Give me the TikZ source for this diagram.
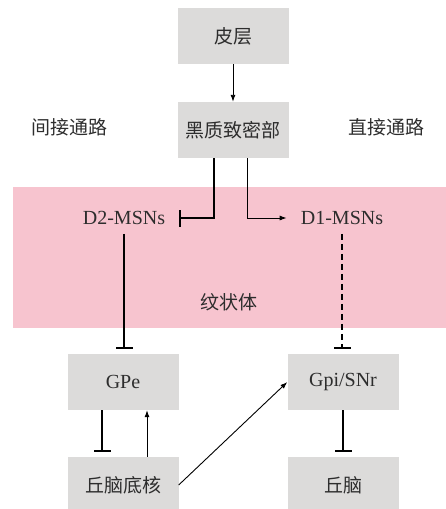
\documentclass[tikz,border=0pt]{standalone}
\usepackage{fontspec}
\setmainfont{Liberation Serif}
\newfontfamily\cjk{Noto Sans CJK SC}
\usetikzlibrary{arrows.meta}
\definecolor{boxgrey}{RGB}{220,219,218}
\definecolor{stripink}{RGB}{247,196,207}
\definecolor{ink}{RGB}{45,45,45}

\begin{document}
\begin{tikzpicture}[x=1pt, y=-1pt]
    \tikzset{%
      box/.style={rectangle, fill=boxgrey, minimum width=111pt,
        minimum height=56pt, inner sep=0pt},
      cn/.style={text=ink, font=\fontsize{19}{22}\selectfont\cjk},
      en/.style={text=ink, font=\fontsize{20}{24}\selectfont},
      msn/.style={en, inner xsep=14pt, inner ysep=9pt},
      arr/.style={-{Latex[length=7pt,width=5pt]}, line width=0.9pt},
      inh/.style={-{Bar[width=17pt,line width=1.8pt]}, line width=1.2pt,
        shorten >=5pt},
    }
    \useasboundingbox (0,0) rectangle (446,509);
    % striatum
    \fill[stripink] (13,187) rectangle (446,328);

    \node[box, cn] (Ctx) at (233,36) {皮层};
    \node[box, cn] (SNc) at (233,130) {黑质致密部};
    \node[cn] (Ind) at (69,127) {间接通路};
    \node[cn] (Dir) at (386,127) {直接通路};

    \node[msn] (D2) at (124,218) {D2-MSNs};
    \node[msn] (D1) at (342,218) {D1-MSNs};
    \node[cn] (Str) at (229,302) {纹状体};

    \node[box, en] (GPe) at (123,382) {GPe};
    \node[box, en] (GPi) at (343,382) {Gpi/SNr};
    \node[box, cn] (STN) at (123,485) {丘脑底核};
    \node[box, cn] (Th) at (343,485) {丘脑};

    \draw [arr] (Ctx) -- (SNc);
    \draw [inh, shorten >=0pt] ([xshift=-19pt]SNc.south) |- (D2.east);
    \draw [arr] ([xshift=14pt]SNc.south) |- (D1.west);

    \draw [inh] (D2.south) -- (D2.south |- GPe.north);
    \draw [inh, dash pattern=on 6pt off 4pt] (D1.south) -- (D1.south |- GPi.north);

    \draw [inh] ([xshift=-21pt]GPe.south) -- ([xshift=-21pt]STN.north);
    \draw [arr] ([xshift=24pt]STN.north) -- ([xshift=24pt]GPe.south);
    \draw [arr] (STN.east) -- (GPi.west);
    \draw [inh] (GPi) -- (Th);
  \end{tikzpicture}
\end{document}
